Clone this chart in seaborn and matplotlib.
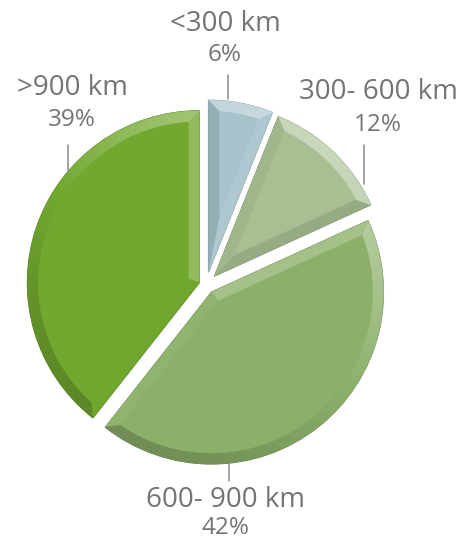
import numpy as np
import matplotlib
matplotlib.use("Agg")
import matplotlib.pyplot as plt
from matplotlib.patches import Polygon
import seaborn as sns

# Trip-length distribution, clockwise from 12 o'clock
categories = ["< 300 km", "300- 600 km", "600- 900 km", "> 900 km"]
shares = [6, 12, 42, 39]
share_labels = ["6%", "12%", "42%", "39%"]
slice_colors = ["#a6c3cc", "#a7bf92", "#8cb06a", "#72a82f"]
explode_frac = [0.076, 0.070, 0.052, 0.041]

sns.set_theme(style="white")
plt.rcParams["font.family"] = ["Open Sans", "DejaVu Sans"]

W, H = 459, 541
fig = plt.figure(figsize=(W / 100, H / 100), dpi=100)
ax = fig.add_axes([0, 0, 1, 1])

radius = 172
center = (206, H - 285)
# matplotlib offsets exploded wedges in data units
explode = [f * radius for f in explode_frac]
wedges, _ = ax.pie(shares, colors=slice_colors, explode=explode, startangle=90,
                   counterclock=False, radius=radius, center=center,
                   wedgeprops=dict(linewidth=0.8), frame=True)

light = np.array([0.55, 0.83])


def mix(rgb, target, k):
    rgb = np.asarray(matplotlib.colors.to_rgb(rgb))
    return tuple(rgb * (1 - k) + np.asarray(target) * k)


def shade(base, normal):
    s = float(np.dot(normal, light))
    if s >= 0:
        return mix(base, (1, 1, 1), 0.40 * s)
    return mix(base, (0, 0, 0), 0.20 * -s)


def bevel(w, base, depth=11, n=60):
    cx, cy = w.center
    r = w.r
    t1, t2 = np.radians(w.theta1), np.radians(w.theta2)
    half = (t2 - t1) / 2
    mid = t1 + half
    c = np.array([cx, cy])
    apex_in = c + depth / np.sin(half) * np.array([np.cos(mid), np.sin(mid)])
    d = np.arcsin(depth / (r - depth))
    a_out = np.linspace(t1, t2, n)
    a_in = np.linspace(t1 + d, t2 - d, n)
    outer = np.column_stack([cx + r * np.cos(a_out), cy + r * np.sin(a_out)])
    inner = np.column_stack([cx + (r - depth) * np.cos(a_in), cy + (r - depth) * np.sin(a_in)])
    w.set_edgecolor(mix(base, (0, 0, 0), 0.25))

    quads = []
    # radial edge at theta1
    quads.append(([c, outer[0], inner[0], apex_in], t1 - np.pi / 2))
    # outer arc
    for i in range(n - 1):
        am = (a_out[i] + a_out[i + 1]) / 2
        quads.append(([outer[i], outer[i + 1], inner[i + 1], inner[i]], am))
    # radial edge at theta2
    quads.append(([c, outer[-1], inner[-1], apex_in], t2 + np.pi / 2))
    for pts, ang in quads:
        col = shade(base, np.array([np.cos(ang), np.sin(ang)]))
        ax.add_patch(Polygon(pts, closed=True, facecolor=col, edgecolor=col,
                             linewidth=0.3, zorder=2))
    face = np.vstack([[apex_in], inner])
    ax.add_patch(Polygon(face, closed=True, facecolor=base, edgecolor=base,
                         linewidth=0.3, zorder=3))


for w, col in zip(wedges, slice_colors):
    bevel(w, col)

text_color = "#737477"
# label anchor (x, y for name, y for share) and leader line (x, y_top, y_bottom)
label_layout = {
    "< 300 km": ((225, 24, 55), (228, 75, 99)),
    "300- 600 km": ((378, 92, 125), (364, 145, 184)),
    "600- 900 km": ((225, 500, 528), (229, 463, 481)),
    "> 900 km": ((72, 88, 120), (68, 145, 176)),
}
for cat, pct in zip(categories, share_labels):
    (tx, ty_name, ty_pct), (lx, ly0, ly1) = label_layout[cat]
    name = cat.replace(" ", "", 1) if cat.startswith(("<", ">")) else cat
    ax.text(tx, H - ty_name, name, ha="center", va="center", fontsize=20,
            color=text_color, zorder=5)
    ax.text(tx, H - ty_pct, pct, ha="center", va="center", fontsize=17.5,
            color=text_color, zorder=5)
    ax.plot([lx, lx], [H - ly0, H - ly1], color="#8a8b8d", lw=1.1, zorder=1)

ax.set_xlim(0, W)
ax.set_ylim(0, H)
ax.set_aspect("equal")
ax.axis("off")

fig.savefig("out.png", dpi=100, facecolor="white")
